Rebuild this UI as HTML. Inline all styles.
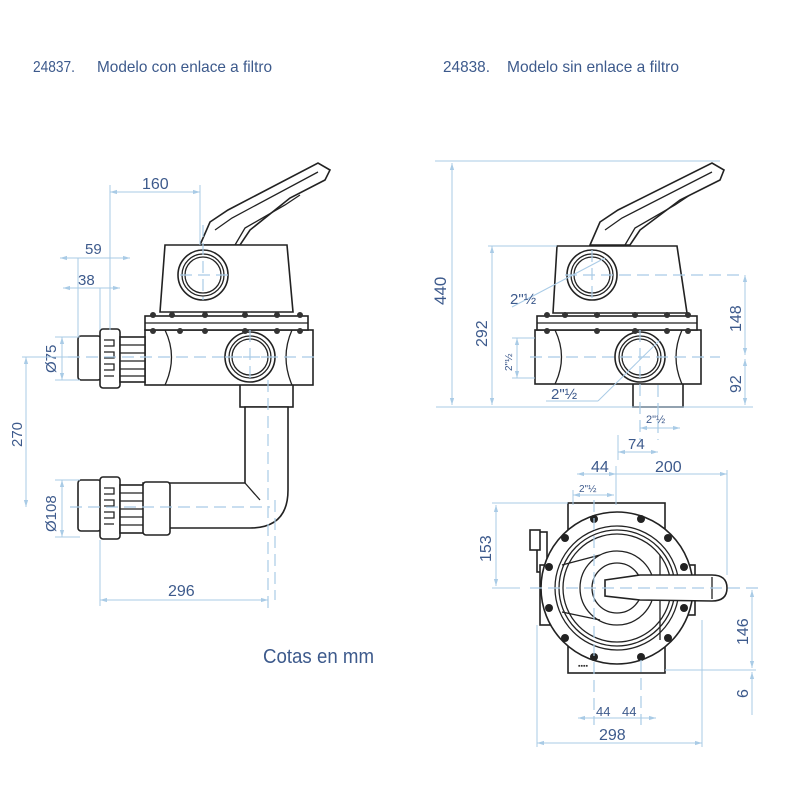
<!DOCTYPE html>
<html><head><meta charset="utf-8"><style>
html,body{margin:0;padding:0;background:#fff}
svg{display:block}
.t{font-family:"Liberation Sans",sans-serif;fill:#3d5a8c}
.d{stroke:#a9cbe6;stroke-width:1;fill:none}
.c{stroke:#a9cbe6;stroke-width:1.2;fill:none;stroke-dasharray:12 6}
.k{stroke:#222;stroke-width:1.6;fill:#fff}
.kn{stroke:#222;stroke-width:1.3;fill:none}
</style></head><body>
<svg width="800" height="800" viewBox="0 0 800 800" xmlns="http://www.w3.org/2000/svg">
<defs>
<marker id="a" viewBox="0 0 10 10" refX="10" refY="5" markerWidth="7" markerHeight="7" orient="auto-start-reverse"><path d="M0,2 L10,5 L0,8z" fill="#a9cbe6"/></marker>
</defs>
<!-- titles -->
<text class="t" x="33" y="72" font-size="16" font-weight="500" textLength="42" lengthAdjust="spacingAndGlyphs">24837.</text>
<text class="t" x="97" y="72" font-size="16" font-weight="500" textLength="175" lengthAdjust="spacingAndGlyphs">Modelo con enlace a filtro</text>
<text class="t" x="443" y="72" font-size="16" font-weight="500" textLength="47" lengthAdjust="spacingAndGlyphs">24838.</text>
<text class="t" x="507" y="72" font-size="16" font-weight="500" textLength="172" lengthAdjust="spacingAndGlyphs">Modelo sin enlace a filtro</text>
<text class="t" x="263" y="663" font-size="20" font-weight="500" textLength="111" lengthAdjust="spacingAndGlyphs">Cotas en mm</text>

<!-- ===== LEFT DRAWING ===== -->
<g>
<path class="k" d="M200,245 L210,222 L228,210 L318,163 L330,170 L325,180 L290,198 L250,230 L240,245z"/>
<path class="kn" d="M215,230 L232,218 L318,172 M235,245 L245,228 L285,205 L300,195"/>
<path class="k" d="M165,245 L287,245 L293,312 L160,312z"/>
<circle class="k" cx="203" cy="275" r="25"/><circle class="kn" cx="203" cy="275" r="21"/><circle class="kn" cx="203" cy="275" r="18"/>
<rect class="k" x="240" y="383" width="53" height="24"/>
<path class="k" d="M245,407 L245,483 L143,483 L143,528 L250,528 Q288,528 288,490 L288,407z"/>
<path class="kn" d="M245,483 L260,500"/>
<rect class="k" x="145" y="330" width="168" height="55"/>
<path class="kn" d="M165,330 Q178,357 165,385 M292,330 Q280,357 292,385"/>
<circle class="k" cx="250" cy="357" r="25"/><circle class="kn" cx="250" cy="357" r="21"/><circle class="kn" cx="250" cy="357" r="18"/>
<rect class="k" x="145" y="316" width="163" height="14"/>
<line class="kn" x1="145" y1="323" x2="308" y2="323"/>
<g fill="#333"><circle cx="153" cy="315" r="3"/><circle cx="172" cy="315" r="3"/><circle cx="205" cy="315" r="3"/><circle cx="245" cy="315" r="3"/><circle cx="277" cy="315" r="3"/><circle cx="300" cy="315" r="3"/>
<circle cx="153" cy="331" r="3"/><circle cx="180" cy="331" r="3"/><circle cx="205" cy="331" r="3"/><circle cx="245" cy="331" r="3"/><circle cx="277" cy="331" r="3"/><circle cx="300" cy="331" r="3"/></g>
<rect class="k" x="78" y="336" width="23" height="44" rx="3"/>
<rect class="k" x="100" y="329" width="20" height="59" rx="3"/>
<path class="kn" d="M104,340 h10 v6 h-10 M104,352 h10 v6 h-10 M104,364 h10 v6 h-10 M104,376 h10"/>
<rect class="k" x="120" y="337" width="25" height="45"/>
<path class="kn" d="M120,345 h25 M120,353 h25 M120,361 h25 M120,369 h25 M120,376 h25"/>
<rect class="k" x="78" y="480" width="23" height="51" rx="3"/>
<rect class="k" x="100" y="477" width="20" height="62" rx="3"/>
<path class="kn" d="M104,488 h10 v6 h-10 M104,500 h10 v6 h-10 M104,512 h10 v6 h-10 M104,524 h10"/>
<rect class="k" x="120" y="485" width="25" height="48"/>
<path class="kn" d="M120,493 h25 M120,501 h25 M120,509 h25 M120,517 h25 M120,525 h25"/>
<rect class="k" x="143" y="482" width="27" height="53" rx="3"/>
<path class="c" d="M68,357 H320 M203,225 V300 M180,275 H228 M250,330 V380 M225,357 H275 M268,380 V610 M70,507 H270 M275,500 V600"/>
<line class="d" x1="110" y1="192" x2="200" y2="192" marker-start="url(#a)" marker-end="url(#a)"/>
<line class="d" x1="110" y1="185" x2="110" y2="330"/>
<line class="d" x1="200" y1="185" x2="200" y2="245"/>
<text class="t" x="142" y="189" font-size="16">160</text>
<line class="d" x1="60" y1="258" x2="130" y2="258" marker-start="url(#a)" marker-end="url(#a)"/>
<text class="t" x="85" y="254" font-size="15">59</text>
<line class="d" x1="78" y1="258" x2="78" y2="336"/>
<line class="d" x1="63" y1="288" x2="120" y2="288" marker-start="url(#a)" marker-end="url(#a)"/>
<line class="d" x1="100" y1="288" x2="100" y2="330"/>
<text class="t" x="78" y="285" font-size="15">38</text>
<line class="d" x1="62" y1="337" x2="62" y2="380" marker-start="url(#a)" marker-end="url(#a)"/>
<line class="d" x1="55" y1="337" x2="80" y2="337"/><line class="d" x1="55" y1="380" x2="80" y2="380"/>
<text class="t" font-size="15" transform="translate(56,373) rotate(-90)">Ø75</text>
<line class="d" x1="26" y1="357" x2="26" y2="507" marker-start="url(#a)" marker-end="url(#a)"/>
<line class="d" x1="22" y1="357" x2="70" y2="357"/>
<text class="t" font-size="15" transform="translate(22,447) rotate(-90)">270</text>
<line class="d" x1="62" y1="480" x2="62" y2="537" marker-start="url(#a)" marker-end="url(#a)"/>
<line class="d" x1="55" y1="480" x2="80" y2="480"/><line class="d" x1="55" y1="537" x2="80" y2="537"/>
<text class="t" font-size="15" transform="translate(56,532) rotate(-90)">Ø108</text>
<line class="d" x1="100" y1="600" x2="268" y2="600" marker-start="url(#a)" marker-end="url(#a)"/>
<line class="d" x1="100" y1="540" x2="100" y2="606"/>
<text class="t" x="168" y="596" font-size="16">296</text>
</g>

<!-- ===== RIGHT TOP DRAWING ===== -->
<g>
<path class="k" d="M590,245 L600,222 L618,210 L712,163 L724,170 L720,180 L680,200 L640,230 L630,245z"/>
<path class="kn" d="M605,230 L622,218 L712,172 M625,245 L635,228 L675,205 L690,195"/>
<path class="k" d="M557,246 L677,246 L687,313 L553,313z"/>
<circle class="k" cx="592" cy="275" r="25"/><circle class="kn" cx="592" cy="275" r="21"/><circle class="kn" cx="592" cy="275" r="18"/>
<rect class="k" x="633" y="383" width="50" height="24"/>
<rect class="k" x="535" y="330" width="166" height="54"/>
<path class="kn" d="M555,330 Q568,357 555,384 M682,330 Q670,357 682,384"/>
<circle class="k" cx="640" cy="357" r="25"/><circle class="kn" cx="640" cy="357" r="21"/><circle class="kn" cx="640" cy="357" r="18"/>
<rect class="k" x="537" y="316" width="160" height="14"/>
<line class="kn" x1="537" y1="323" x2="697" y2="323"/>
<g fill="#333"><circle cx="547" cy="315" r="3"/><circle cx="565" cy="315" r="3"/><circle cx="597" cy="315" r="3"/><circle cx="635" cy="315" r="3"/><circle cx="667" cy="315" r="3"/><circle cx="688" cy="315" r="3"/>
<circle cx="547" cy="331" r="3"/><circle cx="597" cy="331" r="3"/><circle cx="635" cy="331" r="3"/><circle cx="667" cy="331" r="3"/><circle cx="688" cy="331" r="3"/></g>
<path class="c" d="M565,275 H745 M592,250 V300 M530,357 H720 M640,330 V440 M658,385 V440"/>
<line class="d" x1="435" y1="161" x2="720" y2="161"/>
<line class="d" x1="452" y1="163" x2="452" y2="405" marker-start="url(#a)" marker-end="url(#a)"/>
<line class="d" x1="436" y1="407" x2="753" y2="407"/>
<text class="t" font-size="17" transform="translate(446,305) rotate(-90)">440</text>
<line class="d" x1="492" y1="246" x2="492" y2="405" marker-start="url(#a)" marker-end="url(#a)"/>
<line class="d" x1="488" y1="246" x2="557" y2="246"/>
<text class="t" font-size="16" transform="translate(487,347) rotate(-90)">292</text>
<line class="d" x1="517" y1="338" x2="517" y2="378" marker-start="url(#a)" marker-end="url(#a)"/>
<line class="d" x1="512" y1="338" x2="535" y2="338"/><line class="d" x1="512" y1="378" x2="535" y2="378"/>
<text class="t" font-size="10" transform="translate(512,371) rotate(-90)">2"½</text>
<line class="d" x1="745" y1="275" x2="745" y2="355" marker-start="url(#a)" marker-end="url(#a)"/>
<line class="d" x1="745" y1="359" x2="745" y2="405" marker-start="url(#a)" marker-end="url(#a)"/>
<text class="t" font-size="16" transform="translate(741,332) rotate(-90)">148</text>
<text class="t" font-size="16" transform="translate(741,393) rotate(-90)">92</text>
<line class="d" x1="512" y1="307" x2="605" y2="258"/>
<text class="t" x="510" y="304" font-size="15">2"½</text>
<line class="d" x1="546" y1="401" x2="598" y2="401"/><line class="d" x1="598" y1="401" x2="660" y2="340"/>
<text class="t" x="551" y="399" font-size="15">2"½</text>
<line class="d" x1="640" y1="428" x2="680" y2="428" marker-start="url(#a)" marker-end="url(#a)"/>
<text class="t" x="646" y="423" font-size="11">2"½</text>
<line class="d" x1="618" y1="452" x2="658" y2="452" marker-start="url(#a)" marker-end="url(#a)"/>
<line class="d" x1="618" y1="435" x2="618" y2="460"/>
<text class="t" x="628" y="449" font-size="15">74</text>
</g>

<!-- ===== BOTTOM VIEW ===== -->
<g>
<rect class="k" x="568" y="503" width="97" height="170"/>
<rect class="k" x="537" y="532" width="10" height="40"/>
<rect class="k" x="540" y="565" width="10" height="60"/>
<rect class="k" x="685" y="565" width="10" height="50"/>
<circle class="k" cx="617" cy="588" r="76"/>
<circle class="kn" cx="617" cy="588" r="62"/>
<circle class="kn" cx="617" cy="588" r="58"/>
<circle class="kn" cx="617" cy="588" r="54"/>
<path class="kn" d="M562,565 L600,555 M562,612 L600,620 M660,555 L660,640"/>
<circle class="kn" cx="617" cy="588" r="37"/>
<circle class="kn" cx="617" cy="588" r="25"/>
<g fill="#222">
<circle cx="594" cy="519" r="4"/><circle cx="641" cy="519" r="4"/><circle cx="565" cy="538" r="4"/><circle cx="668" cy="538" r="4"/>
<circle cx="549" cy="567" r="4"/><circle cx="684" cy="567" r="4"/><circle cx="549" cy="608" r="4"/><circle cx="684" cy="608" r="4"/>
<circle cx="565" cy="638" r="4"/><circle cx="668" cy="638" r="4"/><circle cx="594" cy="657" r="4"/><circle cx="641" cy="657" r="4"/></g>
<path class="k" d="M605,580 L640,575 L712,575 Q727,575 727,588 Q727,601 712,601 L640,600 L605,596z"/>
<line class="kn" x1="712" y1="577" x2="712" y2="599"/>
<rect class="k" x="530" y="530" width="10" height="20"/>
<text x="578" y="668" font-size="7" font-family="Liberation Sans,sans-serif" fill="#333">▪▪▪▪</text>
<path class="c" d="M530,588 H760 M594,500 V725 M641,660 V725"/>
<line class="d" x1="577" y1="474" x2="616" y2="474" marker-start="url(#a)" marker-end="url(#a)"/>
<line class="d" x1="616" y1="474" x2="727" y2="474" marker-end="url(#a)"/>
<line class="d" x1="616" y1="466" x2="616" y2="505"/>
<line class="d" x1="727" y1="470" x2="727" y2="575"/>
<text class="t" x="591" y="472" font-size="16">44</text>
<text class="t" x="655" y="472" font-size="16">200</text>
<line class="d" x1="573" y1="495" x2="614" y2="495" marker-start="url(#a)" marker-end="url(#a)"/>
<line class="d" x1="573" y1="490" x2="573" y2="505"/>
<text class="t" x="579" y="492" font-size="10">2"½</text>
<line class="d" x1="496" y1="505" x2="496" y2="586" marker-start="url(#a)" marker-end="url(#a)"/>
<line class="d" x1="492" y1="503" x2="568" y2="503"/><line class="d" x1="492" y1="588" x2="520" y2="588"/>
<text class="t" font-size="16" transform="translate(491,562) rotate(-90)">153</text>
<line class="d" x1="752" y1="590" x2="752" y2="668" marker-start="url(#a)" marker-end="url(#a)"/>
<line class="d" x1="752" y1="672" x2="752" y2="715" marker-start="url(#a)"/>
<line class="d" x1="665" y1="670" x2="756" y2="670"/>
<text class="t" font-size="16" transform="translate(748,645) rotate(-90)">146</text>
<text class="t" font-size="16" transform="translate(748,698) rotate(-90)">6</text>
<line class="d" x1="578" y1="718" x2="656" y2="718" marker-start="url(#a)" marker-end="url(#a)"/>
<text class="t" x="596" y="716" font-size="13">44</text>
<text class="t" x="622" y="716" font-size="13">44</text>
<line class="d" x1="537" y1="743" x2="702" y2="743" marker-start="url(#a)" marker-end="url(#a)"/>
<line class="d" x1="537" y1="625" x2="537" y2="747"/>
<line class="d" x1="702" y1="620" x2="702" y2="747"/>
<text class="t" x="599" y="740" font-size="16">298</text>
</g>
</svg>
</body></html>
